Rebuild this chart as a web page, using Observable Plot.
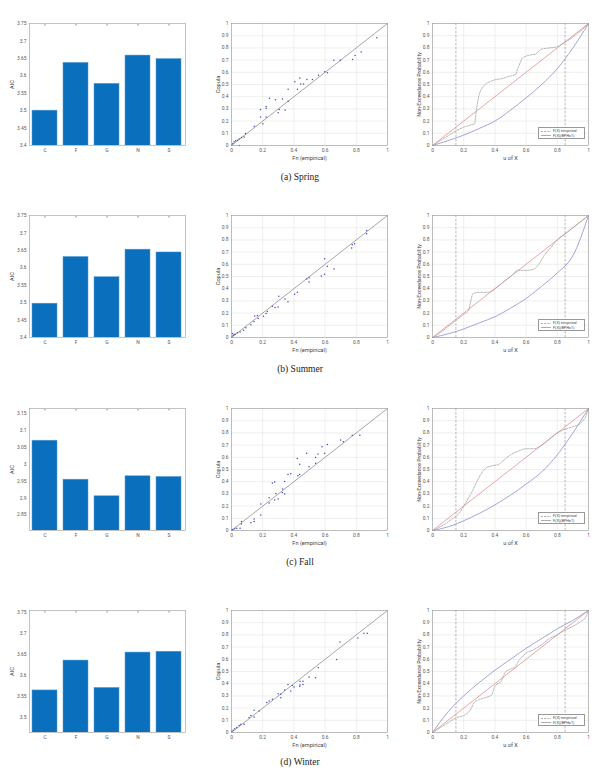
<!DOCTYPE html>
<html><head><meta charset="utf-8">
<script src="https://cdn.jsdelivr.net/npm/d3@7"></script>
<script src="https://cdn.jsdelivr.net/npm/@observablehq/plot@0.6"></script>
<style>
body{margin:0;background:#fff;}
#fig{position:relative;width:600px;height:774px;overflow:hidden;background:#fff;}
.cap{position:absolute;left:0;width:600px;text-align:center;font-family:"Liberation Serif","DejaVu Serif",serif;font-size:9.5px;color:#222;line-height:10px;}
.leg{position:absolute;border:0.6px solid #999;background:#fff;font-family:Roboto,"Liberation Sans",sans-serif;font-size:3.8px;color:#444;box-sizing:border-box;padding:1px 2px;line-height:4.6px;}
.leg svg{vertical-align:middle;margin-right:2px;}
</style></head><body><div id="fig"></div>
<script>
// ---------- data ----------
const captions = ["(a)  Spring", "(b)  Summer", "(c)  Fall", "(d)  Winter"];
const models = ["C", "F", "G", "N", "S"];
const aicSpring = [3.500, 3.637, 3.577, 3.658, 3.648];
const aicSummer = [3.497, 3.631, 3.573, 3.652, 3.644];
const aicFall   = [3.069, 2.954, 2.905, 2.964, 2.962];
const aicWinter = [3.565, 3.636, 3.571, 3.655, 3.657];
const aicLimits = [[3.4, 3.75], [3.4, 3.75], [2.804, 3.164], [3.465, 3.755]];
const aicTicks = [
  [3.4, 3.45, 3.5, 3.55, 3.6, 3.65, 3.7, 3.75],
  [3.4, 3.45, 3.5, 3.55, 3.6, 3.65, 3.7, 3.75],
  [2.85, 2.9, 2.95, 3, 3.05, 3.1, 3.15],
  [3.5, 3.55, 3.6, 3.65, 3.7, 3.75]
];

// copula vs empirical
const fnSpring  = [0.932,0.831,0.792,0.776,0.656,0.697,0.598,0.615,0.558,0.519,0.483,0.438,0.406,0.444,0.462,0.423,0.363,0.363,0.344,0.327,0.299,0.306,0.282,0.244,0.222,0.222,0.186,0.186,0.201,0.222,0.145,0.090,0.081,0.064,0.049,0.038,0.049,0.017,0.009,0.002,0.026];
const copSpring = [0.883,0.767,0.737,0.705,0.699,0.699,0.604,0.596,0.575,0.542,0.542,0.553,0.523,0.504,0.504,0.461,0.461,0.363,0.290,0.382,0.268,0.295,0.374,0.388,0.320,0.306,0.295,0.233,0.179,0.233,0.157,0.098,0.070,0.065,0.054,0.043,0.000,0.030,0.016,0.005,0.038];
const fnSummer  = [0.866,0.866,0.789,0.774,0.770,0.597,0.614,0.657,0.597,0.576,0.497,0.497,0.482,0.422,0.405,0.362,0.343,0.303,0.299,0.279,0.262,0.230,0.222,0.205,0.166,0.171,0.149,0.145,0.124,0.092,0.077,0.055,0.038,0.023,0.011,0.006,0.002,0.017];
const copSummer = [0.877,0.850,0.768,0.760,0.733,0.646,0.583,0.561,0.518,0.504,0.490,0.455,0.480,0.371,0.354,0.294,0.316,0.338,0.251,0.245,0.256,0.213,0.196,0.174,0.180,0.155,0.177,0.131,0.104,0.079,0.060,0.046,0.038,0.027,0.016,0.033,0.005,0.025];
const fnFall  = [0.823,0.774,0.700,0.716,0.614,0.580,0.597,0.554,0.539,0.482,0.539,0.497,0.422,0.437,0.437,0.426,0.380,0.362,0.341,0.328,0.326,0.341,0.277,0.262,0.284,0.299,0.277,0.241,0.241,0.188,0.188,0.145,0.145,0.124,0.064,0.064,0.055,0.034,0.021,0.009,0.002];
const copFall = [0.780,0.780,0.742,0.728,0.704,0.687,0.633,0.628,0.598,0.633,0.552,0.522,0.590,0.543,0.459,0.448,0.465,0.459,0.402,0.340,0.312,0.299,0.397,0.389,0.304,0.258,0.250,0.269,0.226,0.217,0.128,0.095,0.073,0.063,0.073,0.054,0.019,0.019,0.014,0.008,0.003];
const fnWinter  = [0.870,0.849,0.810,0.695,0.674,0.556,0.539,0.497,0.458,0.439,0.458,0.439,0.437,0.390,0.401,0.362,0.380,0.341,0.316,0.299,0.316,0.262,0.241,0.226,0.177,0.145,0.145,0.124,0.113,0.081,0.060,0.049,0.034,0.021,0.011,0.002];
const copWinter = [0.813,0.813,0.774,0.742,0.598,0.530,0.448,0.454,0.421,0.421,0.394,0.389,0.380,0.386,0.372,0.394,0.340,0.348,0.313,0.318,0.285,0.272,0.258,0.245,0.177,0.182,0.128,0.139,0.122,0.068,0.068,0.057,0.041,0.030,0.019,0.008];
const diagonal = [0, 1];

// non-exceedance probability curves
const uGrid = [0, 0.1, 0.2, 0.3, 0.4, 0.5, 0.6, 0.7, 0.8, 0.9, 1];
const redSpring  = [0, 0.1, 0.2, 0.3, 0.4, 0.5, 0.6, 0.7, 0.8, 0.9, 1];
const redSummer  = [0, 0.1, 0.2, 0.3, 0.4, 0.5, 0.6, 0.7, 0.8, 0.9, 1];
const redFall    = [0, 0.1, 0.2, 0.3, 0.4, 0.5, 0.6, 0.7, 0.8, 0.9, 1];
const redWinter  = [0, 0.1, 0.2, 0.3, 0.4, 0.5, 0.6, 0.7, 0.8, 0.9, 1];
const blueSpring = [0, 0.04, 0.085, 0.14, 0.20, 0.29, 0.39, 0.50, 0.63, 0.80, 1];
const blueSummer = [0, 0.03, 0.07, 0.12, 0.17, 0.24, 0.32, 0.42, 0.53, 0.67, 1];
const blueFall   = [0, 0.03, 0.08, 0.14, 0.21, 0.29, 0.38, 0.48, 0.62, 0.80, 1];
const blueWinter = [0, 0.17, 0.30, 0.41, 0.51, 0.60, 0.69, 0.77, 0.85, 0.92, 1];
const empUSpring = [0,0.05,0.1,0.15,0.2,0.25,0.27,0.28,0.3,0.33,0.38,0.45,0.5,0.53,0.55,0.58,0.62,0.66,0.7,0.75,0.8,0.84,0.88,0.92,0.96,1];
const empFSpring = [0,0.04,0.08,0.12,0.15,0.17,0.18,0.28,0.42,0.49,0.53,0.55,0.57,0.58,0.64,0.72,0.74,0.75,0.79,0.80,0.81,0.84,0.87,0.91,0.95,1];
const empUSummer = [0,0.05,0.1,0.15,0.2,0.23,0.26,0.3,0.35,0.38,0.42,0.5,0.55,0.6,0.65,0.68,0.72,0.76,0.8,0.85,0.9,0.95,1];
const empFSummer = [0,0.04,0.09,0.14,0.19,0.22,0.36,0.37,0.37,0.38,0.42,0.50,0.55,0.55,0.56,0.60,0.68,0.74,0.80,0.85,0.90,0.95,1];
const empUFall = [0,0.05,0.1,0.13,0.17,0.2,0.25,0.3,0.34,0.38,0.42,0.46,0.5,0.55,0.6,0.65,0.7,0.75,0.8,0.85,0.9,0.95,0.98,1];
const empFFall = [0,0.03,0.07,0.10,0.14,0.20,0.31,0.44,0.51,0.53,0.54,0.58,0.62,0.65,0.67,0.67,0.70,0.75,0.80,0.83,0.85,0.88,0.93,1];
const empUWinter = [0,0.05,0.1,0.15,0.2,0.24,0.27,0.3,0.35,0.38,0.4,0.44,0.47,0.5,0.53,0.56,0.6,0.65,0.7,0.75,0.8,0.85,0.9,0.95,0.98,1];
const empFWinter = [0,0.04,0.08,0.12,0.14,0.18,0.25,0.27,0.29,0.31,0.38,0.42,0.50,0.52,0.54,0.60,0.65,0.68,0.72,0.77,0.80,0.84,0.87,0.91,0.94,1];
const thresholds = [0.15, 0.85];
const legendLabels = ["F(X) empirical", "F(X)(BPH=1)"];

const probTicks = [0, 0.1, 0.2, 0.3, 0.4, 0.5, 0.6, 0.7, 0.8, 0.9, 1];
const xTicks01 = [0, 0.2, 0.4, 0.6, 0.8, 1];

// ---------- layout ----------
const fig = document.getElementById("fig");
const colX = [29, 231, 432];
const rowY = [23, 215, 408, 610];
const capY = [172, 364, 557, 757];
const FW = 156, FH = 122;
const M = {left: 32, right: 10, top: 8, bottom: 22};
const font = "Roboto, 'Liberation Sans', Arial, sans-serif";
const fmt = d => String(+(+d).toFixed(2));

function place(el, fx, fy) {
  el.style.position = "absolute";
  el.style.left = (fx - M.left) + "px";
  el.style.top = (fy - M.top) + "px";
  fig.appendChild(el);
}
function base(extra) {
  return Object.assign({
    width: FW + M.left + M.right, height: FH + M.top + M.bottom,
    marginLeft: M.left, marginRight: M.right, marginTop: M.top, marginBottom: M.bottom,
    style: {fontFamily: font, fontSize: "4.9px", color: "#555", background: "transparent", overflow: "visible"}
  }, extra);
}

const aicAll = [aicSpring, aicSummer, aicFall, aicWinter];
const fnAll = [fnSpring, fnSummer, fnFall, fnWinter];
const copAll = [copSpring, copSummer, copFall, copWinter];
const redAll = [redSpring, redSummer, redFall, redWinter];
const blueAll = [blueSpring, blueSummer, blueFall, blueWinter];
const empUAll = [empUSpring, empUSummer, empUFall, empUWinter];
const empFAll = [empFSpring, empFSummer, empFFall, empFWinter];

for (let r = 0; r < 4; r++) {
  // bar chart
  const bars = models.map((m, i) => ({m, v: aicAll[r][i]}));
  const p1 = Plot.plot(base({
    x: {domain: models, paddingInner: 0.19, paddingOuter: 0.1},
    y: {domain: aicLimits[r]},
    marks: [
      Plot.barY(bars, {x: "m", y: "v", fill: "#0a6fbd", stroke: "#5a9fd6", strokeWidth: 0.5, clip: true}),
      Plot.frame({stroke: "#9a9a9a", strokeWidth: 0.6}),
      Plot.axisX({tickSize: 0, tickPadding: 3.5, label: null}),
      Plot.axisX({anchor: "top", tickSize: -1.5, tickFormat: () => "", label: null, stroke: "#888"}),
      Plot.axisY({ticks: aicTicks[r], tickFormat: fmt, tickSize: 0, tickPadding: 3, label: null}),
      Plot.text(["AIC"], {frameAnchor: "left", dx: -17, rotate: -90, textAnchor: "middle", lineAnchor: "middle", fontSize: 5.6, fill: "#444"})
    ]
  }));
  place(p1, colX[0], rowY[r]);

  // copula scatter
  const pts = fnAll[r].map((f, i) => ({f, c: copAll[r][i]}));
  const p2 = Plot.plot(base({
    x: {domain: [0, 1]},
    y: {domain: [0, 1]},
    marks: [
      Plot.gridX({ticks: xTicks01, stroke: "#dedede", strokeOpacity: 1, strokeWidth: 0.5}),
      Plot.gridY({ticks: probTicks, stroke: "#dedede", strokeOpacity: 1, strokeWidth: 0.5}),
      Plot.line(diagonal, {x: d => d, y: d => d, stroke: "#8f8f8f", strokeWidth: 0.8}),
      Plot.dot(pts, {x: "f", y: "c", r: 0.75, fill: "#3d4fc2", stroke: "none"}),
      Plot.frame({stroke: "#9a9a9a", strokeWidth: 0.6}),
      Plot.axisX({ticks: xTicks01, tickFormat: fmt, tickSize: 0, tickPadding: 3, label: null}),
      Plot.axisY({ticks: probTicks, tickFormat: fmt, tickSize: 0, tickPadding: 3, label: null}),
      Plot.text(["Copula"], {frameAnchor: "left", dx: -13, rotate: -90, textAnchor: "middle", lineAnchor: "middle", fontSize: 5.6, fill: "#444"}),
      Plot.text(["Fn (empirical)"], {frameAnchor: "bottom", dy: 12.5, textAnchor: "middle", lineAnchor: "middle", fontSize: 5.6, fill: "#444"})
    ]
  }));
  place(p2, colX[1], rowY[r]);

  // non-exceedance probability
  const red = uGrid.map((u, i) => ({u, p: redAll[r][i]}));
  const blue = uGrid.map((u, i) => ({u, p: blueAll[r][i]}));
  const emp = empUAll[r].map((u, i) => ({u, p: empFAll[r][i]}));
  const p3 = Plot.plot(base({
    x: {domain: [0, 1]},
    y: {domain: [0, 1]},
    marks: [
      Plot.gridX({ticks: xTicks01, stroke: "#dedede", strokeOpacity: 1, strokeWidth: 0.5}),
      Plot.gridY({ticks: probTicks, stroke: "#dedede", strokeOpacity: 1, strokeWidth: 0.5}),
      Plot.ruleX(thresholds, {stroke: "#888", strokeWidth: 0.6, strokeDasharray: "2.5,1.5"}),
      Plot.line(blue, {x: "u", y: "p", stroke: "#7c7fcc", strokeWidth: 0.7, curve: "monotone-x"}),
      Plot.line(red, {x: "u", y: "p", stroke: "#e38080", strokeWidth: 0.7}),
      Plot.line(emp, {x: "u", y: "p", stroke: "#9a9a9a", strokeWidth: 0.7, strokeDasharray: "2,1.2", curve: "monotone-x"}),
      Plot.frame({stroke: "#9a9a9a", strokeWidth: 0.6}),
      Plot.axisX({ticks: xTicks01, tickFormat: fmt, tickSize: 0, tickPadding: 3, label: null}),
      Plot.axisY({ticks: probTicks, tickFormat: fmt, tickSize: 0, tickPadding: 3, label: null}),
      Plot.text(["Non-Exceedance Probability"], {frameAnchor: "left", dx: -13, rotate: -90, textAnchor: "middle", lineAnchor: "middle", fontSize: 5.2, fill: "#444"}),
      Plot.text(["u of X"], {frameAnchor: "bottom", dy: 12.5, textAnchor: "middle", lineAnchor: "middle", fontSize: 5.6, fill: "#444"})
    ]
  }));
  place(p3, colX[2], rowY[r]);

  // legend
  const leg = document.createElement("div");
  leg.className = "leg";
  leg.style.left = (colX[2] + FW - 50) + "px";
  leg.style.top = (rowY[r] + FH - 18) + "px";
  leg.style.width = "47px";
  leg.style.height = "12px";
  leg.innerHTML =
    `<div><svg width="10" height="3"><line x1="0" y1="1.5" x2="10" y2="1.5" stroke="#8a8a8a" stroke-width="0.7" stroke-dasharray="2,1.2"/></svg>${legendLabels[0]}</div>` +
    `<div><svg width="10" height="3"><line x1="0" y1="1.5" x2="10" y2="1.5" stroke="#8a8a8a" stroke-width="0.7"/></svg>${legendLabels[1]}</div>`;
  fig.appendChild(leg);

  // caption
  const cap = document.createElement("div");
  cap.className = "cap";
  cap.style.top = capY[r] + "px";
  cap.textContent = captions[r];
  fig.appendChild(cap);
}
</script></body></html>
